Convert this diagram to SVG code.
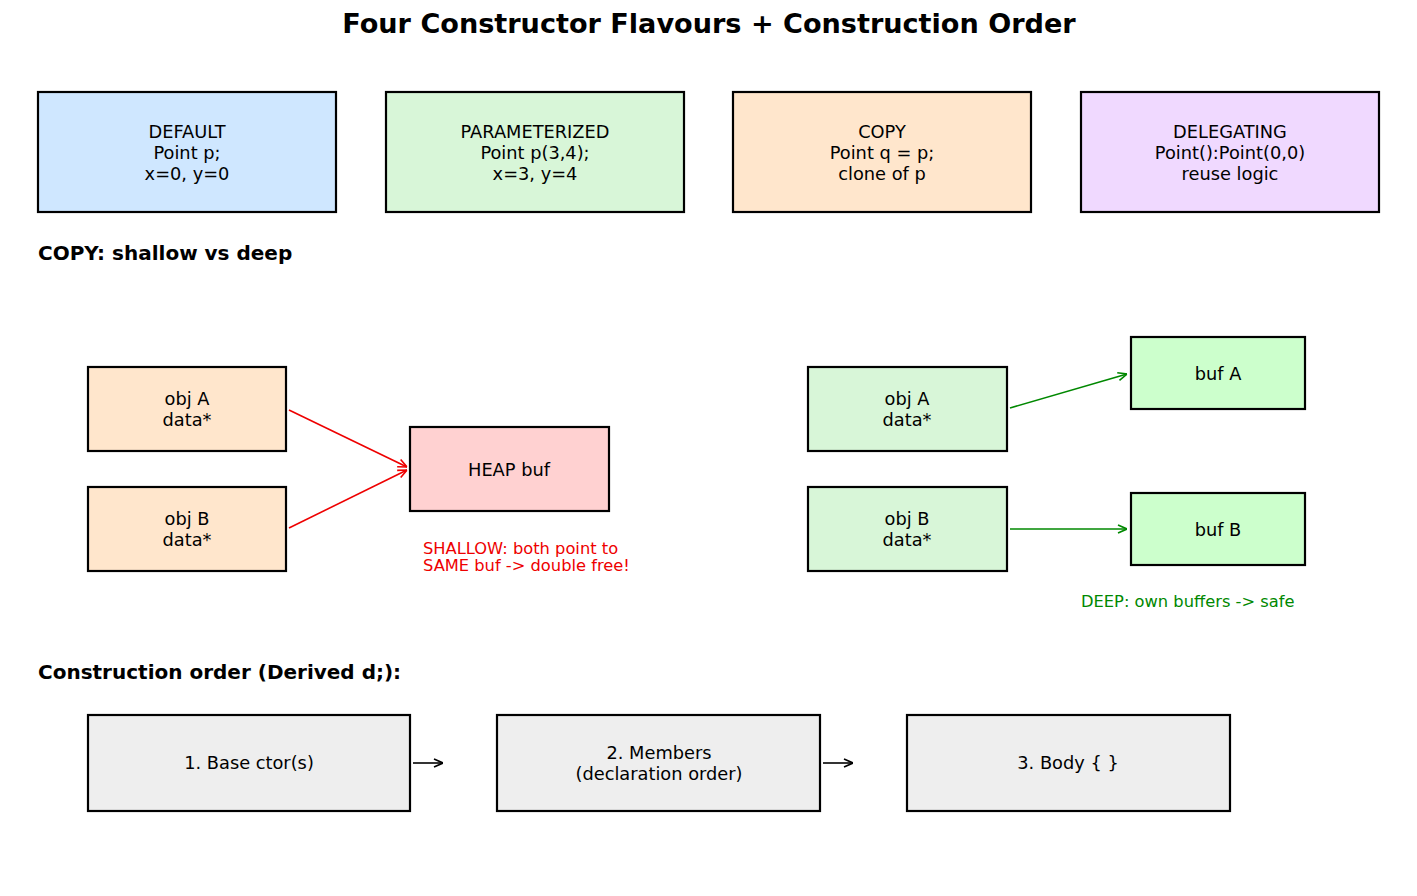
<svg xmlns="http://www.w3.org/2000/svg" width="1417" height="896" viewBox="0 0 1417 896">
<style>
text{font-family:"DejaVu Sans",sans-serif;fill:#000}
.t{font-size:17.8px;text-anchor:middle}
.h{font-size:20px;font-weight:bold}
.s{font-size:16.3px}
.b{stroke:#000;stroke-width:2.2}
.red{stroke:#e00;stroke-width:1.6;fill:none}
.grn{stroke:#080;stroke-width:1.6;fill:none}
.blk{stroke:#000;stroke-width:1.6;fill:none}
</style>
<defs>
<marker id="ar" viewBox="0 0 10 10" refX="10" refY="5" markerWidth="10" markerHeight="10" markerUnits="userSpaceOnUse" orient="auto"><path d="M1,1 L10,5 L1,9" fill="none" stroke="#e00" stroke-width="1.6"/></marker>
<marker id="ag" viewBox="0 0 10 10" refX="10" refY="5" markerWidth="10" markerHeight="10" markerUnits="userSpaceOnUse" orient="auto"><path d="M1,1 L10,5 L1,9" fill="none" stroke="#080" stroke-width="1.6"/></marker>
<marker id="ak" viewBox="0 0 10 10" refX="10" refY="5" markerWidth="10" markerHeight="10" markerUnits="userSpaceOnUse" orient="auto"><path d="M1,1 L10,5 L1,9" fill="none" stroke="#000" stroke-width="1.6"/></marker>
</defs>
<rect width="1417" height="896" fill="#fff"/>
<text x="709" y="33" style="font-size:27.1px;font-weight:bold;text-anchor:middle">Four Constructor Flavours + Construction Order</text>

<g id="default"><rect class="b" x="38" y="92" width="298" height="120" fill="#cfe7ff"/>
<text class="t" x="187" y="138">DEFAULT</text><text class="t" x="187" y="159">Point p;</text><text class="t" x="187" y="180">x=0, y=0</text></g>
<g id="param"><rect class="b" x="386" y="92" width="298" height="120" fill="#d8f6d8"/>
<text class="t" x="535" y="138">PARAMETERIZED</text><text class="t" x="535" y="159">Point p(3,4);</text><text class="t" x="535" y="180">x=3, y=4</text></g>
<g id="copy"><rect class="b" x="733" y="92" width="298" height="120" fill="#ffe6cc"/>
<text class="t" x="882" y="138">COPY</text><text class="t" x="882" y="159">Point q = p;</text><text class="t" x="882" y="180">clone of p</text></g>
<g id="deleg"><rect class="b" x="1081" y="92" width="298" height="120" fill="#f0d9ff"/>
<text class="t" x="1230" y="138">DELEGATING</text><text class="t" x="1230" y="159">Point():Point(0,0)</text><text class="t" x="1230" y="180">reuse logic</text></g>

<text class="h" x="38" y="260">COPY: shallow vs deep</text>

<g id="sobjA"><rect class="b" x="88" y="367" width="198" height="84" fill="#ffe6cc"/>
<text class="t" x="187" y="405">obj A</text><text class="t" x="187" y="426">data*</text></g>
<g id="sobjB"><rect class="b" x="88" y="487" width="198" height="84" fill="#ffe6cc"/>
<text class="t" x="187" y="525">obj B</text><text class="t" x="187" y="546">data*</text></g>
<g id="heap"><rect class="b" x="410" y="427" width="199" height="84" fill="#ffd1d1"/>
<text class="t" x="509" y="476">HEAP buf</text></g>
<text class="s" x="423" y="554" style="fill:#e00">SHALLOW: both point to</text>
<text class="s" x="423" y="571" style="fill:#e00">SAME buf -&gt; double free!</text>

<g id="dobjA"><rect class="b" x="808" y="367" width="199" height="84" fill="#d8f6d8"/>
<text class="t" x="907" y="405">obj A</text><text class="t" x="907" y="426">data*</text></g>
<g id="dobjB"><rect class="b" x="808" y="487" width="199" height="84" fill="#d8f6d8"/>
<text class="t" x="907" y="525">obj B</text><text class="t" x="907" y="546">data*</text></g>
<g id="bufA"><rect class="b" x="1131" y="337" width="174" height="72" fill="#ccffcc"/>
<text class="t" x="1218" y="380">buf A</text></g>
<g id="bufB"><rect class="b" x="1131" y="493" width="174" height="72" fill="#ccffcc"/>
<text class="t" x="1218" y="536">buf B</text></g>
<text class="s" x="1081" y="607" style="fill:#080">DEEP: own buffers -&gt; safe</text>

<text class="h" x="38" y="679">Construction order (Derived d;):</text>

<g id="base"><rect class="b" x="88" y="715" width="322" height="96" fill="#eeeeee"/>
<text class="t" x="249" y="769">1. Base ctor(s)</text></g>
<g id="members"><rect class="b" x="497" y="715" width="323" height="96" fill="#eeeeee"/>
<text class="t" x="659" y="759">2. Members</text><text class="t" x="659" y="780">(declaration order)</text></g>
<g id="body"><rect class="b" x="907" y="715" width="323" height="96" fill="#eeeeee"/>
<text class="t" x="1068" y="769">3. Body { }</text></g>

<g id="connectors">
<line class="red" x1="289" y1="410" x2="407" y2="467" marker-end="url(#ar)"/>
<line class="red" x1="289" y1="528" x2="407" y2="470" marker-end="url(#ar)"/>
<line class="grn" x1="1010" y1="408" x2="1127" y2="374" marker-end="url(#ag)"/>
<line class="grn" x1="1010" y1="529" x2="1127" y2="529" marker-end="url(#ag)"/>
<line class="blk" x1="413" y1="763" x2="443" y2="763" marker-end="url(#ak)"/>
<line class="blk" x1="823" y1="763" x2="853" y2="763" marker-end="url(#ak)"/>
</g>
</svg>
